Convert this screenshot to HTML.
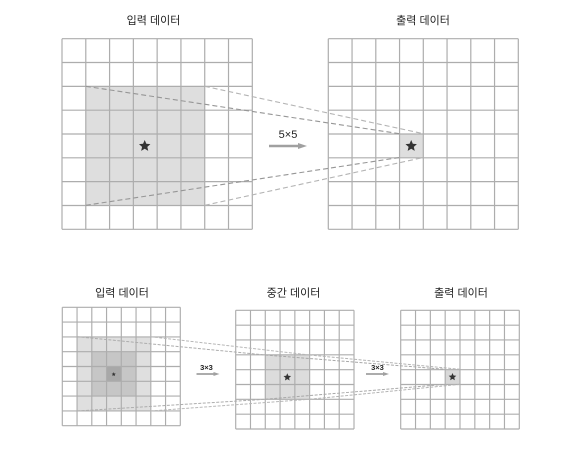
<!DOCTYPE html>
<html lang="ko">
<head>
<meta charset="utf-8">
<title>합성곱 수용 영역 다이어그램</title>
<style>
html,body{margin:0;padding:0;background:#fff;width:584px;height:463px;overflow:hidden}
svg{display:block}
text{font-family:"Liberation Sans","Noto Sans CJK KR",sans-serif;fill:#222;text-anchor:middle}
.title{font-size:11px}
.lab{font-size:11px}
.lab-s{font-size:7.5px;font-weight:bold}
</style>
</head>
<body>
<svg id="s" width="584" height="463" viewBox="0 0 584 463">
  <g id="shades"></g>
  <g id="grids"></g>
  <g id="dashes"></g>
  <g id="stars"></g>

  <text class="title" x="153.5" y="24">입력 데이터</text>
  <text class="title" x="423" y="24">출력 데이터</text>
  <text class="title" x="122" y="296.5">입력 데이터</text>
  <text class="title" x="293.5" y="296.5">중간 데이터</text>
  <text class="title" x="461" y="296.5">출력 데이터</text>

  <text class="lab" x="288" y="138">5×5</text>
  <text class="lab-s" x="206.5" y="370">3×3</text>
  <text class="lab-s" x="377.5" y="370">3×3</text>

  <g id="arrows"></g>
</svg>
<script>
var NS = 'http://www.w3.org/2000/svg';
function mk(parent, tag, attrs) {
  var el = document.createElementNS(NS, tag);
  for (var k in attrs) el.setAttribute(k, attrs[k]);
  document.getElementById(parent).appendChild(el);
  return el;
}
function rect(x0, y0, x1, y1, fill, name) {
  var el = mk('shades', 'rect', {x: x0, y: y0, width: x1 - x0, height: y1 - y0, fill: fill});
  
  
}
function grid(x0, y0, x1, y1, sw, name) {
  var n = 8;
  var g = mk('grids', 'g', {stroke: '#adadad', 'stroke-width': sw, fill: 'none'});
  
  
  var d = '';
  for (var i = 0; i <= n; i++) {
    var px = x0 + (x1 - x0) * i / n, py = y0 + (y1 - y0) * i / n;
    d += 'M' + px + ' ' + y0 + 'V' + y1 + 'M' + x0 + ' ' + py + 'H' + x1;
  }
  var p = document.createElementNS(NS, 'path');
  p.setAttribute('d', d);
  g.appendChild(p);
}
function dash(x0, y0, x1, y1, color, sw, pat) {
  var el = mk('dashes', 'line', {x1: x0, y1: y0, x2: x1, y2: y1, stroke: color, 'stroke-width': sw, 'stroke-dasharray': pat});
  
  
}
function star(cx, cy, r) {
  var pts = [];
  for (var i = 0; i < 10; i++) {
    var a = -Math.PI / 2 + i * Math.PI / 5, q = i % 2 ? r * 0.46 : r;
    pts.push((cx + q * Math.cos(a)).toFixed(2) + ',' + (cy + q * Math.sin(a)).toFixed(2));
  }
  var el = mk('stars', 'polygon', {points: pts.join(' '), fill: '#333'});
  
  
}
function arrow(x0, x1, y, sw, hl, hw) {
  var g = mk('arrows', 'g', {});
  
  
  var l = document.createElementNS(NS, 'line');
  l.setAttribute('x1', x0); l.setAttribute('x2', x1 - hl);
  l.setAttribute('y1', y); l.setAttribute('y2', y);
  l.setAttribute('stroke', '#a0a0a0'); l.setAttribute('stroke-width', sw);
  g.appendChild(l);
  var h = document.createElementNS(NS, 'polygon');
  h.setAttribute('points', (x1 - hl) + ',' + (y - hw) + ' ' + x1 + ',' + y + ' ' + (x1 - hl) + ',' + (y + hw));
  h.setAttribute('fill', '#a0a0a0');
  g.appendChild(h);
}

/* shaded regions */
rect(85.8, 86.3, 204.8, 205.3, '#dedede', 'top-input-receptive-field');
rect(399.3, 133.7, 423.3, 157.5, '#dedede', 'top-output-cell');
rect(77, 336.7, 150.3, 411, '#dfdfdf', 'bottom-input-outer-field');
rect(91.7, 351.7, 135.7, 396.3, '#c6c6c6', 'bottom-input-middle-field');
rect(106.3, 366.7, 121.3, 381.3, '#a8a8a8', 'bottom-input-center-cell');
rect(265.3, 355, 309.3, 399.3, '#dcdcdc', 'bottom-middle-field');
rect(445, 369.3, 460, 384.3, '#d8d8d8', 'bottom-output-cell');

/* grids */
grid(62, 38.7, 252.3, 229.3, 1.2, 'top-input-grid');
grid(328.3, 38.7, 518.3, 229.3, 1.2, 'top-output-grid');
grid(62.3, 307.3, 180.3, 425.7, 1.15, 'bottom-input-grid');
grid(235.7, 310.3, 354, 429, 1.15, 'bottom-middle-grid');
grid(400.7, 310.3, 519.3, 429, 1.15, 'bottom-output-grid');

/* projection lines: top */
dash(85.8, 86.3, 399.5, 133.7, '#969696', 1.1, '5 3');
dash(204.8, 86.3, 423.3, 133.7, '#b4b4b4', 1.1, '5 3');
dash(85.8, 205.3, 399.5, 157.5, '#969696', 1.1, '5 3');
dash(204.8, 205.3, 423.3, 157.5, '#b4b4b4', 1.1, '5 3');

/* projection lines: bottom */
dash(77, 336.7, 265.3, 355, '#adadad', 1, '3 1.5');
dash(150.3, 336.7, 309.3, 355, '#b8b8b8', 1, '3 1.5');
dash(77, 411, 265.3, 399.3, '#adadad', 1, '3 1.5');
dash(150.3, 411, 309.3, 399.3, '#b8b8b8', 1, '3 1.5');
dash(265.3, 355, 445, 369.3, '#a8a8a8', 1, '3 1.5');
dash(309.3, 355, 460, 369.3, '#b4b4b4', 1, '3 1.5');
dash(265.3, 399.3, 445, 384.3, '#a8a8a8', 1, '3 1.5');
dash(309.3, 399.3, 460, 384.3, '#b4b4b4', 1, '3 1.5');

/* stars */
star(144.7, 146, 6);
star(411.2, 146, 6);
star(113.7, 374.3, 2.2);
star(287.3, 377.3, 4);
star(452.5, 377, 4);

/* arrows */
arrow(269, 307, 146, 2.6, 9, 3);
arrow(196.5, 219.5, 374, 1.8, 6, 2);
arrow(366, 389, 374, 1.8, 6, 2);
</script>
</body>
</html>
